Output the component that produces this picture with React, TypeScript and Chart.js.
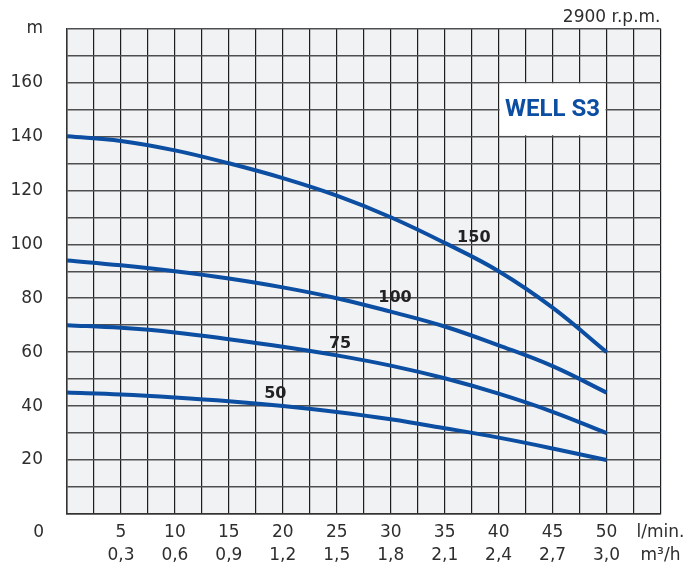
import { useEffect, useRef } from "react";
import { Chart, registerables } from "chart.js";

Chart.register(...registerables);

// Flow in l/min
const flow = [0, 5, 10, 15, 20, 25, 30, 35, 40, 45, 50];
// Head (m) for each curve
const h150 = [140, 138.3, 134.8, 130, 124.5, 118, 110, 100.5, 90, 76.5, 60];
const h100 = [94, 92.2, 90, 87.3, 84, 80, 75, 69.5, 62.5, 54.8, 45];
const h75 = [70, 69, 67.3, 64.8, 62, 58.8, 55, 50.3, 44.6, 37.9, 30];
const h50 = [45, 44.3, 43.2, 41.8, 40, 37.8, 35.1, 31.8, 28.3, 24.3, 20];

const curveNames = ["150", "100", "75", "50"];
const curveLabelAt = [
  [37.7, 102.2],
  [30.4, 80.2],
  [25.3, 63],
  [19.3, 44.4],
];

// Tick labels
const xTickLmin = [5, 10, 15, 20, 25, 30, 35, 40, 45, 50];
const xTickM3h = ["0,3", "0,6", "0,9", "1,2", "1,5", "1,8", "2,1", "2,4", "2,7", "3,0"];
const xUnit = ["l/min.", "m³/h"];
const yTicks = [20, 40, 60, 80, 100, 120, 140, 160];
const yUnit = "m";
const speedText = "2900 r.p.m.";
const modelText = "WELL S3";
const modelBox = { x0: 40, x1: 50, y0: 140, y1: 160 };

const BLUE = "#0c4ea2";
const TEXT = "#2e2e2e";
const FONT = "'DejaVu Sans', sans-serif";

export default function App() {
  const ref = useRef<HTMLCanvasElement>(null);

  useEffect(() => {
    const canvas = ref.current!;
    const decor = {
      id: "decor",
      beforeDraw(chart: any) {
        const { ctx, chartArea } = chart;
        ctx.save();
        ctx.fillStyle = "#f1f2f4";
        ctx.fillRect(chartArea.left, chartArea.top, chartArea.right - chartArea.left, chartArea.bottom - chartArea.top);
        ctx.restore();
      },
      beforeDatasetsDraw(chart: any) {
        const { ctx, scales } = chart;
        const xs = scales.x, ys = scales.y;
        const l = xs.getPixelForValue(modelBox.x0);
        const r = xs.getPixelForValue(modelBox.x1);
        const t = ys.getPixelForValue(modelBox.y1);
        const b = ys.getPixelForValue(modelBox.y0);
        ctx.save();
        ctx.fillStyle = "#ffffff";
        ctx.fillRect(l + 1, t + 1, r - l - 2, b - t - 2);
        ctx.fillStyle = BLUE;
        ctx.font = `bold 24px Roboto, ${FONT}`;
        ctx.textAlign = "center";
        ctx.textBaseline = "middle";
        ctx.fillText(modelText, (l + r) / 2, (t + b) / 2 + 1);
        ctx.restore();
      },
      afterDatasetsDraw(chart: any) {
        const { ctx, scales, chartArea } = chart;
        ctx.save();
        ctx.fillStyle = "#222";
        ctx.font = `bold 16px ${FONT}`;
        ctx.textAlign = "center";
        ctx.textBaseline = "middle";
        curveNames.forEach((n, i) => {
          ctx.fillText(n, scales.x.getPixelForValue(curveLabelAt[i][0]), scales.y.getPixelForValue(curveLabelAt[i][1]));
        });
        ctx.fillStyle = TEXT;
        ctx.font = `17px ${FONT}`;
        ctx.textAlign = "right";
        ctx.fillText("0", chartArea.left - 23, chartArea.bottom + 19);
        ctx.restore();
      },
    };

    const mk = (data: number[]) => flow.map((x, i) => ({ x, y: data[i] }));

    const chart = new Chart(canvas, {
      type: "line",
      data: {
        datasets: [h150, h100, h75, h50].map((d, i) => ({
          label: curveNames[i],
          data: mk(d),
          borderColor: BLUE,
          borderWidth: 4,
          pointRadius: 0,
          tension: 0.4,
          fill: false,
        })),
      },
      options: {
        animation: false,
        responsive: true,
        maintainAspectRatio: false,
        layout: { padding: { left: 0, right: 25.5, top: 0, bottom: 0 } },
        plugins: {
          legend: { display: false },
          tooltip: { enabled: false },
          title: {
            display: true,
            text: speedText,
            align: "end",
            fullSize: false,
            color: TEXT,
            font: { family: FONT, size: 17, weight: "normal" },
            padding: { top: 7, bottom: 1 },
          },
        },
        scales: {
          x: {
            type: "linear",
            min: 0,
            max: 55,
            afterFit: (s: any) => {
              s.height = 53;
              s.paddingLeft = 0;
              s.paddingRight = 0;
            },
            afterBuildTicks: (s: any) => {
              const t = [];
              for (let i = 0; i <= 22; i++) t.push({ value: i * 2.5 });
              s.ticks = t;
            },
            ticks: {
              autoSkip: false,
              maxRotation: 0,
              padding: 8,
              color: TEXT,
              font: { family: FONT, size: 17, lineHeight: 1.3 },
              callback: (v: any) => {
                const idx = xTickLmin.indexOf(Number(v));
                if (idx >= 0) return [String(xTickLmin[idx]), xTickM3h[idx]];
                if (Number(v) === 55) return xUnit;
                return "";
              },
            },
            grid: { color: "#1e1e1e", lineWidth: 1.2, drawTicks: false },
            border: { color: "#333", width: 1.5 },
          },
          y: {
            min: 0,
            max: 180,
            afterFit: (s: any) => {
              s.width = 67;
              s.paddingTop = 0;
              s.paddingBottom = 0;
            },
            ticks: {
              stepSize: 10,
              autoSkip: false,
              padding: 24,
              color: TEXT,
              font: { family: FONT, size: 17 },
              callback: (v: any) => {
                if (Number(v) === 180) return yUnit;
                return yTicks.includes(Number(v)) ? String(v) : "";
              },
            },
            grid: { color: "#4e4e4e", lineWidth: 1.4, drawTicks: false },
            border: { color: "#333", width: 1.5 },
          },
        },
      },
      plugins: [decor],
    });
    return () => chart.destroy();
  }, []);

  return (
    <div style={{ position: "fixed", left: 0, top: 0, width: 686, height: 567, background: "#fff" }}>
      <canvas ref={ref} />
    </div>
  );
}
